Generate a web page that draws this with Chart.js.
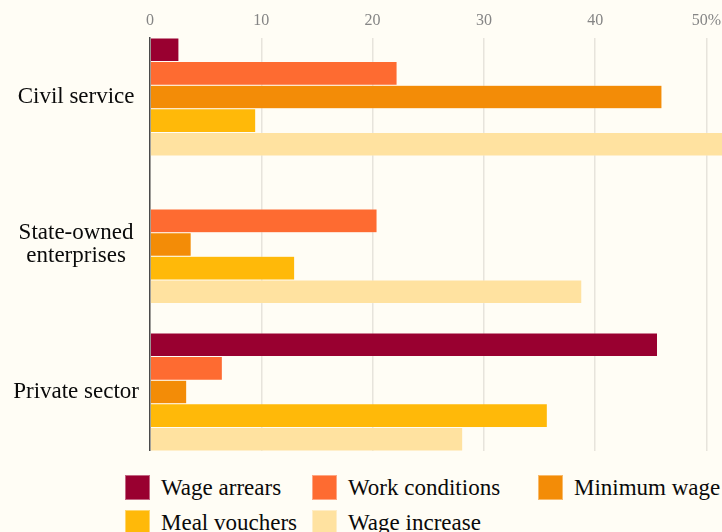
<!DOCTYPE html>
<html>
<head>
<meta charset="utf-8">
<script src="https://cdn.jsdelivr.net/npm/chart.js@4/dist/chart.umd.min.js"></script>
<style>
    html, body {
        margin: 0;
        padding: 0;
        background: #fffdf5;
    }
    body {
        width: 722px;
        height: 532px;
        overflow: hidden;
        position: relative;
    }
    #chartReasons {
        position: absolute;
        left: 0;
        top: 0;
    }
    #legend {
        position: absolute;
        left: 125px;
        top: 475px;
        display: grid;
        grid-template-columns: 187px 226px auto;
        grid-auto-rows: 35px;
        font-family: 'Liberation Serif', serif;
        font-size: 23px;
        color: #0a0a0a;
    }
    .item {
        display: flex;
        align-items: flex-start;
        white-space: nowrap;
    }
    .box {
        width: 25px;
        height: 25px;
        box-sizing: border-box;
        border: 1px solid rgba(255, 255, 255, 0.4);
        margin-right: 11px;
        flex: none;
    }
    .item span.txt {
        line-height: 25px;
    }
</style>
</head>
<body>
<canvas id="chartReasons" width="751" height="451"></canvas>
<div id="legend"></div>
<script>
const categories = ['Civil service', 'State-owned enterprises', 'Private sector'];
const categoryLines = [['Civil service'], ['State-owned', 'enterprises'], ['Private sector']];
const positions = [0, 1, 2];

const seriesNames = ['Wage arrears', 'Work conditions', 'Minimum wage', 'Meal vouchers', 'Wage increase'];
const seriesColors = ['#990030', '#fe6b31', '#f38c07', '#ffb909', '#ffe2a0'];

// percent of protests, by sector
const wageArrears = [2.6, 0, 45.6];
const workConditions = [22.2, 20.4, 6.5];
const minimumWage = [46.0, 3.7, 3.3];
const mealVouchers = [9.5, 13.0, 35.7];
const wageIncrease = [53.0, 38.8, 28.1];

const xTickValues = [0, 10, 20, 30, 40, 50];
const xTickLabels = ['0', '10', '20', '30', '40', '50%'];

const seriesValues = [wageArrears, workConditions, minimumWage, mealVouchers, wageIncrease];

Chart.defaults.font.family = "'Liberation Serif', serif";

drawChart();

function drawChart() {
    const ctx = document.getElementById('chartReasons').getContext('2d');
    const chart = new Chart(ctx, {
        type: 'bar',
        data: {
            labels: positions,
            datasets: seriesNames.map((name, i) => ({
                label: name,
                data: seriesValues[i],
                backgroundColor: seriesColors[i],
                borderColor: 'rgba(255, 255, 255, 0.35)',
                borderWidth: 0.5,
                categoryPercentage: 0.8,
                barPercentage: 1
            }))
        },
        options: {
            indexAxis: 'y',
            responsive: false,
            animation: false,
            devicePixelRatio: 1,
            layout: { padding: 0 },
            plugins: {
                legend: { display: false },
                tooltip: { enabled: false }
            },
            scales: {
                x: {
                    type: 'linear',
                    position: 'top',
                    min: 0,
                    max: 54,
                    afterBuildTicks: scale => {
                        scale.ticks = xTickValues.map(v => ({ value: v }));
                    },
                    afterFit: scale => {
                        scale.height = 38;
                    },
                    ticks: {
                        callback: (v, i) => xTickLabels[i],
                        color: '#858585',
                        font: { size: 16 },
                        padding: 8
                    },
                    grid: {
                        color: '#e7e4dc',
                        lineWidth: 1.5,
                        drawTicks: false
                    },
                    border: { display: false }
                },
                y: {
                    type: 'linear',
                    reverse: true,
                    offset: false,
                    min: -0.4,
                    max: 2.4,
                    afterBuildTicks: scale => {
                        scale.ticks = positions.map(v => ({ value: v }));
                    },
                    afterFit: scale => {
                        scale.width = 150;
                        scale.paddingTop = 0;
                        scale.paddingBottom = 0;
                    },
                    ticks: {
                        callback: v => categoryLines[v],
                        crossAlign: 'center',
                        color: '#0a0a0a',
                        font: { size: 23, lineHeight: 1.0 },
                        padding: 11
                    },
                    grid: { display: false, drawTicks: false },
                    border: { display: true, color: '#4a4a4a', width: 1.5 }
                }
            }
        }
    });

    // legend laid out in columns like the original
    const legend = document.getElementById('legend');
    chart.data.datasets.forEach(ds => {
        const item = document.createElement('div');
        item.className = 'item';
        const box = document.createElement('span');
        box.className = 'box';
        box.style.background = ds.backgroundColor;
        const txt = document.createElement('span');
        txt.className = 'txt';
        txt.textContent = ds.label;
        item.appendChild(box);
        item.appendChild(txt);
        legend.appendChild(item);
    });
}
</script>
</body>
</html>
